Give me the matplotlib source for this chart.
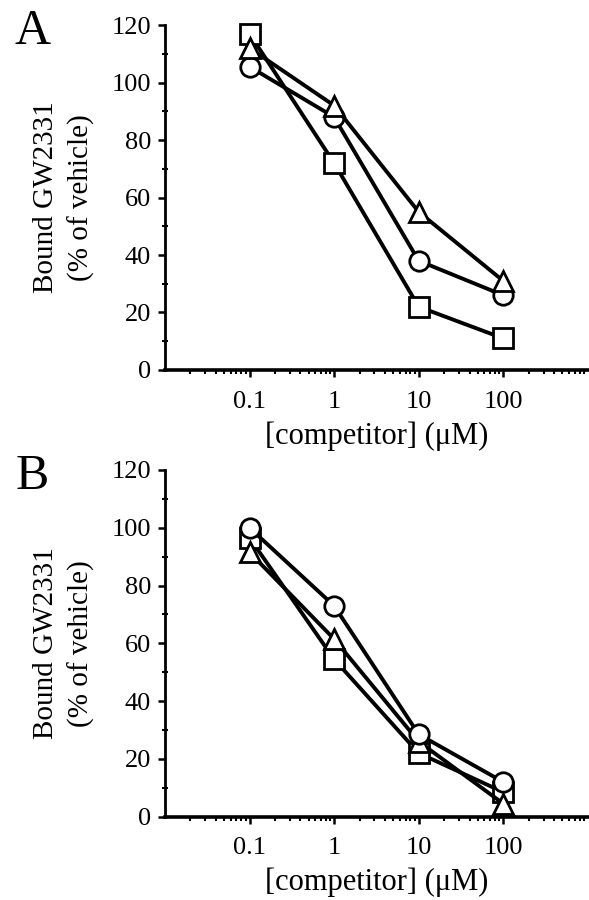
import numpy as np
import matplotlib
matplotlib.use('Agg')
import matplotlib.pyplot as plt
from matplotlib.ticker import FixedLocator, LogLocator, NullFormatter, MultipleLocator

plt.rcParams['font.family'] = ['Liberation Serif', 'DejaVu Serif']

# data
conc = [0.1, 1, 10, 100]
# panel A
a_square = [117, 72, 22, 11]
a_triangle = [112, 92, 55, 31]
a_circle = [105.5, 88, 38, 26]
# panel B
b_circle = [100, 73, 28.5, 12]
b_triangle = [91.5, 61.5, 26, 4.5]
b_square = [96.5, 54.5, 22, 8.5]

xticks = [0.1, 1, 10, 100]
xticklabels = ['0.1', '1', '10', '100']
yticks = [0, 20, 40, 60, 80, 100, 120]

fig = plt.figure(figsize=(5.89, 9), dpi=100)
axA = fig.add_axes([0.280, 0.5889, 0.718, 0.3833])
axB = fig.add_axes([0.280, 0.0926, 0.718, 0.3852])

mk = dict(color='black', lw=2.8, mfc='white', mec='black', mew=2.0, ms=14, clip_on=False)

def style(ax):
    ax.set_xscale('log')
    ax.set_xlim(0.01, 1000)
    ax.set_ylim(0, 120)
    ax.spines['top'].set_visible(False)
    ax.spines['right'].set_visible(False)
    ax.spines['left'].set_linewidth(2)
    ax.spines['bottom'].set_linewidth(2.6)
    ax.xaxis.set_major_locator(FixedLocator(xticks))
    ax.set_xticklabels(xticklabels)
    ax.xaxis.set_minor_locator(LogLocator(base=10, subs=np.arange(2, 10)))
    ax.xaxis.set_minor_formatter(NullFormatter())
    ax.set_yticks(yticks)
    ax.yaxis.set_minor_locator(MultipleLocator(10))
    ax.tick_params(axis='both', which='major', direction='out', length=5, width=1.8, labelsize=19, pad=5)
    ax.tick_params(axis='x', which='major', pad=10)
    ax.tick_params(axis='x', which='minor', direction='out', length=3, width=1.5)
    ax.tick_params(axis='y', which='minor', direction='inout', length=5, width=1.5)
    ax.set_xlabel('[competitor] (\u03bcM)', fontsize=22, labelpad=6)
    ax.set_ylabel('Bound GW2331\n(% of vehicle)', fontsize=21, labelpad=12, linespacing=1.4)

ax = axA
ax.plot(conc, a_square, marker='s', **mk)
ax.plot(conc, a_circle, marker='o', **mk)
ax.plot(conc, a_triangle, marker='^', **mk)
style(ax)

ax = axB
ax.plot(conc, b_square, marker='s', **mk)
ax.plot(conc, b_triangle, marker='^', **mk)
ax.plot(conc, b_circle, marker='o', **mk)
style(ax)

fig.text(0.055, 0.965, 'A', fontsize=36, ha='center', va='center')
fig.text(0.055, 0.470, 'B', fontsize=36, ha='center', va='center')

fig.savefig('out.png', dpi=100)
